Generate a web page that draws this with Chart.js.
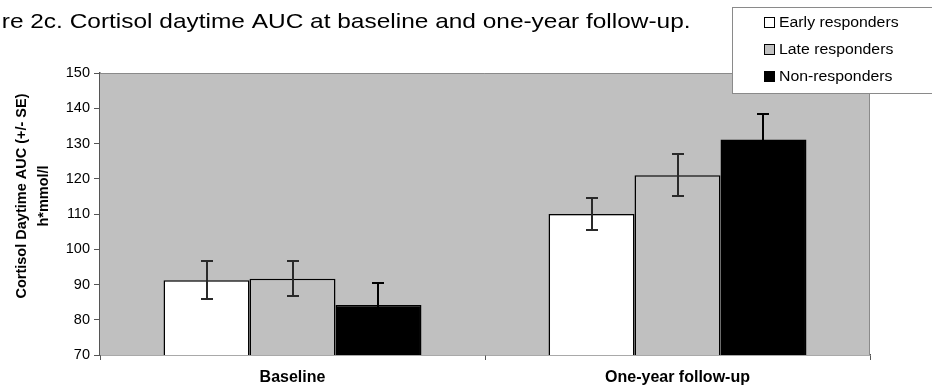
<!DOCTYPE html>
<html>
<head>
<meta charset="utf-8">
<script src="https://cdn.jsdelivr.net/npm/chart.js@4"></script>
<style>
  html, body { margin: 0; padding: 0; background: #fff; }
  #wrap { position: relative; width: 932px; height: 389px; }
</style>
</head>
<body>
<div id="wrap"><canvas id="c" width="932" height="389"></canvas></div>
<script>
const categories = ['Baseline', 'One-year follow-up'];
const seriesNames = ['Early responders', 'Late responders', 'Non-responders'];
const earlyValues = [91.2, 110.0];
const lateValues = [91.6, 121.0];
const nonValues = [84.2, 131.1];
const earlySE = [5.4, 4.6];
const lateSE = [5.0, 5.9];
const nonSE = [6.2, 7.3];
const yTicks = [70, 80, 90, 100, 110, 120, 130, 140, 150];
const titleText = 're 2c. Cortisol daytime AUC at baseline and one-year follow-up.';
const yTitleLines = ['Cortisol Daytime AUC (+/- SE)', 'h*mmol/l'];

const FONT = '"Liberation Sans", Arial, sans-serif';
const PLOT_BG = '#c0c0c0';

// plot background + frame
const plotBg = {
  id: 'plotBg',
  beforeDatasetsDraw(chart){
    const {ctx, chartArea: a} = chart;
    ctx.save();
    ctx.fillStyle = PLOT_BG;
    ctx.fillRect(a.left, a.top, a.right - a.left, a.bottom - a.top);
    ctx.strokeStyle = '#8a8a8a';
    ctx.lineWidth = 1;
    ctx.beginPath();
    ctx.moveTo(a.left, a.top + .5);
    ctx.lineTo(a.right - .5, a.top + .5);
    ctx.lineTo(a.right - .5, a.bottom);
    ctx.stroke();
    ctx.restore();
  }
};

// error bars from the SE arrays
const errorBars = {
  id: 'errorBars',
  afterDatasetsDraw(chart){
    const {ctx} = chart;
    const y = chart.scales.y;
    ctx.save();
    ctx.lineWidth = 2;
    chart.data.datasets.forEach((ds, i) => {
      const meta = chart.getDatasetMeta(i);
      // on the black bars the whisker vanishes into the fill
      ctx.strokeStyle = ds.backgroundColor === '#000000' ? '#000' : '#2a2a2a';
      meta.data.forEach((bar, j) => {
        const v = ds.data[j], e = ds.se[j];
        const yt = Math.round(y.getPixelForValue(v + e)), yb = Math.round(y.getPixelForValue(v - e));
        const x = Math.round(bar.x);
        ctx.beginPath();
        ctx.moveTo(x, yt); ctx.lineTo(x, yb);
        ctx.moveTo(x - 6, yt); ctx.lineTo(x + 6, yt);
        ctx.moveTo(x - 6, yb); ctx.lineTo(x + 6, yb);
        ctx.stroke();
      });
    });
    ctx.restore();
  }
};

// title, y-axis title and legend box (source image is slightly stretched sideways)
const extras = {
  id: 'extras',
  afterDraw(chart){
    const {ctx} = chart;
    ctx.save();
    ctx.fillStyle = '#000';
    ctx.font = '21px ' + FONT;
    ctx.textBaseline = 'alphabetic';
    ctx.textAlign = 'left';
    ctx.save();
    ctx.scale(1.164, 1);
    ctx.fillText(titleText, 1.5, 28);
    ctx.restore();

    ctx.font = 'bold 14.5px ' + FONT;
    ctx.textAlign = 'center';
    ctx.textBaseline = 'middle';
    ctx.translate(0, 196);
    ctx.rotate(-Math.PI / 2);
    ctx.fillText(yTitleLines[0], 0, 22);
    ctx.fillText(yTitleLines[1], 0, 44);
    ctx.setTransform(1, 0, 0, 1, 0, 0);

    // legend
    ctx.fillStyle = '#fff';
    ctx.fillRect(732, 7, 210, 86);
    ctx.strokeStyle = '#8a8a8a';
    ctx.lineWidth = 1;
    ctx.strokeRect(732.5, 7.5, 210, 86);
    ctx.font = '14px ' + FONT;
    ctx.textAlign = 'left';
    chart.data.datasets.forEach((ds, i) => {
      const cy = 22 + i * 27;
      ctx.fillStyle = ds.backgroundColor;
      ctx.fillRect(764, cy - 5, 11, 11);
      ctx.strokeStyle = '#000';
      ctx.strokeRect(764.5, cy - 4.5, 10, 10);
      ctx.fillStyle = '#000';
      ctx.save();
      ctx.scale(1.13, 1);
      ctx.fillText(ds.label, 779 / 1.13, cy + 1);
      ctx.restore();
    });
    ctx.restore();
  }
};

const colors = ['#ffffff', PLOT_BG, '#000000'];
const values = [earlyValues, lateValues, nonValues];
const ses = [earlySE, lateSE, nonSE];

new Chart(document.getElementById('c'), {
  type: 'bar',
  data: {
    labels: categories,
    datasets: seriesNames.map((name, i) => ({
      label: name,
      data: values[i],
      se: ses[i],
      backgroundColor: colors[i],
      borderColor: '#000',
      borderWidth: 1.5,
      barPercentage: 1,
      categoryPercentage: 0.67
    }))
  },
  options: {
    responsive: false,
    animation: false,
    devicePixelRatio: 1,
    layout: { padding: { top: 73, right: 62, left: 0, bottom: 0 } },
    plugins: { legend: { display: false }, tooltip: { enabled: false } },
    scales: {
      x: {
        grid: { drawOnChartArea: false, tickLength: 5, color: '#555' },
        border: { color: '#555', width: 1.5 },
        ticks: { color: '#000', font: { family: FONT, size: 16, weight: 'bold' }, padding: 8 },
        afterFit(s){ s.height = 34; }
      },
      y: {
        min: 70, max: 150,
        afterBuildTicks(s){ s.ticks = yTicks.map(v => ({ value: v })); },
        grid: { drawOnChartArea: false, tickLength: 6, color: '#555' },
        border: { color: '#555', width: 1.5 },
        ticks: { color: '#000', font: { family: FONT, size: 14.5 }, padding: 4 },
        afterFit(s){ s.width = 100; }
      }
    }
  },
  plugins: [plotBg, errorBars, extras]
});
</script>
</body>
</html>
